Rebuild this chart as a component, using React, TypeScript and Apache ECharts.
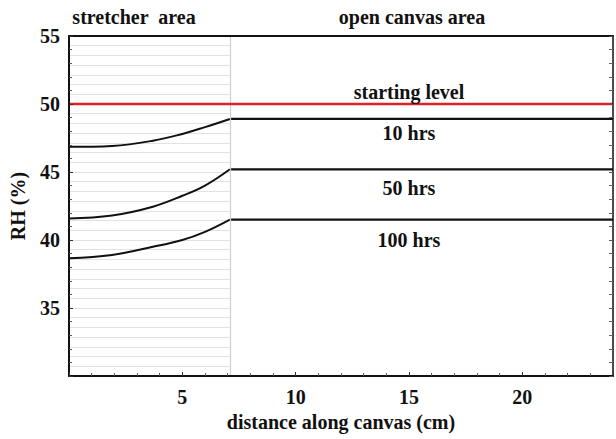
import React, { useEffect, useRef } from "react";
import * as echarts from "echarts";

// --- data ---
const stretcherEnd = 7.1;
const canvasEnd = 24;
const distanceStretcher = [0, 1.9, 3.7, 5.0, 6.0, 7.1];
const rh10 = [46.85, 46.92, 47.3, 47.8, 48.3, 48.9];
const rh50 = [41.58, 41.8, 42.45, 43.25, 44.0, 45.2];
const rh100 = [38.66, 38.9, 39.5, 40.0, 40.6, 41.5];
const startingLevel = 50;
const seriesNames = ["10 hrs", "50 hrs", "100 hrs"];
const annotations: { text: string; x: number; y: number }[] = [
  { text: "starting level", x: 15, y: 50.85 },
  { text: "10 hrs", x: 15, y: 47.85 },
  { text: "50 hrs", x: 15, y: 43.85 },
  { text: "100 hrs", x: 15, y: 40.0 },
];
const yMin = 30;
const yMax = 55;
const yInterval = 5;
const xMin = 0;
const xInterval = 5;
const stripeInterval = 5 / 7;

const FONT = "Liberation Serif";
const FS = 20;

export default function App() {
  const ref = useRef<HTMLDivElement>(null);
  useEffect(() => {
    if (!ref.current) return;
    const chart = echarts.init(ref.current, undefined, { renderer: "svg" });
    const curves = [rh10, rh50, rh100];
    const lineSeries: any[] = [];
    curves.forEach((vals, i) => {
      lineSeries.push({
        name: seriesNames[i] + " stretcher",
        type: "line",
        smooth: 0.4,
        symbol: "none",
        z: 4,
        lineStyle: { color: "#111", width: 2 },
        data: distanceStretcher.map((d, k) => [d, vals[k]]),
      });
      lineSeries.push({
        name: seriesNames[i],
        type: "line",
        symbol: "none",
        z: 4,
        lineStyle: { color: "#111", width: 2.2 },
        data: [
          [stretcherEnd, vals[vals.length - 1]],
          [canvasEnd, vals[vals.length - 1]],
        ],
      });
    });

    const labelStyle = {
      fontFamily: FONT,
      fontWeight: "bold",
      fontSize: FS,
      color: "#111",
    };

    chart.setOption({
      animation: false,
      backgroundColor: "#fff",
      grid: { left: 66, right: 3, top: 36, bottom: 63 },
      xAxis: [
        {
          type: "value",
          min: xMin,
          max: canvasEnd,
          interval: xInterval,
          z: 6,
          name: "distance along canvas (cm)",
          nameLocation: "middle",
          nameGap: 36,
          nameTextStyle: { ...labelStyle },
          axisLine: { show: true, onZero: false, lineStyle: { color: "#111", width: 2 } },
          axisTick: { show: true, inside: true, length: 4, lineStyle: { color: "#333" } },
          minorTick: { show: true, splitNumber: 5, length: 3, lineStyle: { color: "#555" } },
          splitLine: { show: false },
          axisLabel: { ...labelStyle, margin: 11, showMinLabel: false, showMaxLabel: false },
        },
        {
          type: "value",
          position: "top",
          min: xMin,
          max: canvasEnd,
          interval: xInterval,
          z: 6,
          axisLine: { show: true, onZero: false, lineStyle: { color: "#111", width: 2 } },
          axisTick: { show: false },
          axisLabel: { show: false },
          splitLine: { show: false },
        },
      ],
      yAxis: [
        {
          type: "value",
          min: yMin,
          max: yMax,
          interval: yInterval,
          z: 6,
          name: "RH (%)",
          nameLocation: "middle",
          nameRotate: 90,
          nameGap: 41,
          nameTextStyle: { ...labelStyle },
          axisLine: { show: true, onZero: false, lineStyle: { color: "#111", width: 2 } },
          axisTick: { show: true, inside: true, length: 4, lineStyle: { color: "#333" } },
          minorTick: { show: true, splitNumber: 5, length: 3, lineStyle: { color: "#555" } },
          splitLine: { show: false },
          axisLabel: { ...labelStyle, margin: 9, showMinLabel: false },
        },
        {
          type: "value",
          position: "right",
          min: yMin,
          max: yMax,
          interval: yInterval,
          z: 6,
          axisLine: { show: true, onZero: false, lineStyle: { color: "#111", width: 1.5 } },
          axisTick: { show: true, inside: true, length: 4, lineStyle: { color: "#555" } },
          minorTick: { show: true, splitNumber: 5, length: 4, lineStyle: { color: "#666" } },
          axisLabel: { show: false },
          splitLine: { show: false },
        },
        {
          type: "value",
          min: yMin,
          max: yMax,
          interval: stripeInterval,
          z: 0,
          show: true,
          axisLine: { show: false },
          axisTick: { show: false },
          axisLabel: { show: false },
          splitLine: { show: true, lineStyle: { color: "#e2e2e2", width: 1.2 } },
        },
      ],
      graphic: [
        {
          type: "text",
          x: 134,
          y: 17,
          style: {
            text: "stretcher  area",
            font: `bold ${FS}px "${FONT}"`,
            fill: "#111",
            textAlign: "center",
            textVerticalAlign: "middle",
          },
        },
        {
          type: "text",
          x: 412,
          y: 17,
          style: {
            text: "open canvas area",
            font: `bold ${FS}px "${FONT}"`,
            fill: "#111",
            textAlign: "center",
            textVerticalAlign: "middle",
          },
        },
      ],
      series: [
        {
          name: "cover",
          type: "line",
          yAxisIndex: 2,
          data: [],
          z: 1,
          symbol: "none",
          markArea: {
            silent: true,
            itemStyle: { color: "#ffffff", opacity: 1 },
            data: [[{ xAxis: stretcherEnd }, { xAxis: canvasEnd }]],
          },
          markLine: {
            silent: true,
            symbol: "none",
            label: { show: false },
            lineStyle: { color: "#cfcfcf", width: 1.2, type: "solid" },
            data: [{ xAxis: stretcherEnd }],
          },
        },
        {
          name: "starting level",
          type: "line",
          symbol: "none",
          z: 5,
          lineStyle: { color: "#dd2228", width: 2.5 },
          data: [
            [xMin, startingLevel],
            [canvasEnd, startingLevel],
          ],
        },
        ...lineSeries,
        {
          name: "annotations",
          type: "scatter",
          symbolSize: 0,
          z: 7,
          itemStyle: { opacity: 1 },
          data: annotations.map((a) => ({ value: [a.x, a.y], name: a.text })),
          label: {
            show: true,
            position: "inside",
            formatter: (p: any) => p.name,
            ...labelStyle,
            opacity: 1,
          },
        },
      ],
    });
    return () => chart.dispose();
  }, []);
  return (
    <div
      ref={ref}
      style={{ position: "absolute", left: 0, top: 0, width: 616, height: 439 }}
    />
  );
}
